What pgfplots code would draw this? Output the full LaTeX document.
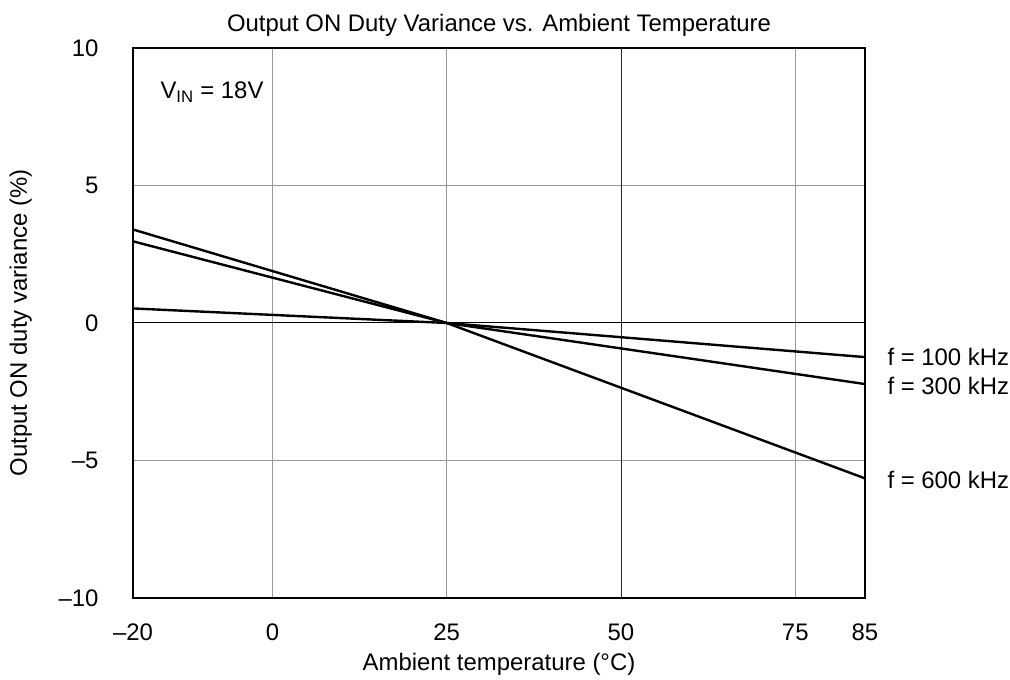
\documentclass[border=0pt]{standalone}
\usepackage{pgfplots}
\pgfplotsset{compat=1.18}
\usepackage{fontspec}
\setmainfont{Liberation Sans}
\begin{document}
\begin{tikzpicture}[font=\fontsize{24}{28}\selectfont]
\useasboundingbox (-133bp,-82bp) rectangle (877bp,598bp);
\begin{axis}[
  at={(0,0)}, anchor=south west,
  scale only axis,
  width=732bp, height=550bp,
  xmin=-20, xmax=85, ymin=-10, ymax=10,
  xtick={-20,0,25,50,75,85},
  xticklabels={–20,0,25,50,75,85},
  ytick={-10,-5,0,5,10},
  yticklabels={–10,–5,0,5,10},
  major tick length=0pt,
  grid=major,
  major grid style={gray!80, line width=1bp},
  axis line style={black, line width=1.5bp},
  xticklabel style={text height=17bp, text depth=0pt, yshift=-22bp},
  yticklabel style={xshift=-31bp},
  xlabel={Ambient temperature (°C)},
  ylabel={Output ON duty variance (\%)},
  xlabel style={yshift=-6bp},
  ylabel style={yshift=20bp},
  title={Output ON Duty Variance vs. Ambient Temperature},
  title style={yshift=2bp},
  clip=false,
]
\draw[black, line width=1bp] (axis cs:-20,0) -- (axis cs:85,0);
\draw[black!85, line width=1bp] (axis cs:50,-10) -- (axis cs:50,10);
\addplot[black, line width=2.4bp] coordinates {(-20,0.53) (25,0) (85,-1.24)};
\addplot[black, line width=2.4bp] coordinates {(-20,2.97) (25,0) (85,-2.22)};
\addplot[black, line width=2.4bp] coordinates {(-20,3.40) (25,0) (85,-5.65)};
\node[anchor=west] at (axis cs:85,-1.24) [xshift=19bp] {f = 100 kHz};
\node[anchor=west] at (axis cs:85,-2.30) [xshift=19bp] {f = 300 kHz};
\node[anchor=west] at (axis cs:85,-5.70) [xshift=19bp] {f = 600 kHz};
\node[anchor=west] at (axis cs:-20,8.4) [xshift=24bp] {V\textsubscript{IN} = 18V};
\end{axis}
\end{tikzpicture}
\end{document}
